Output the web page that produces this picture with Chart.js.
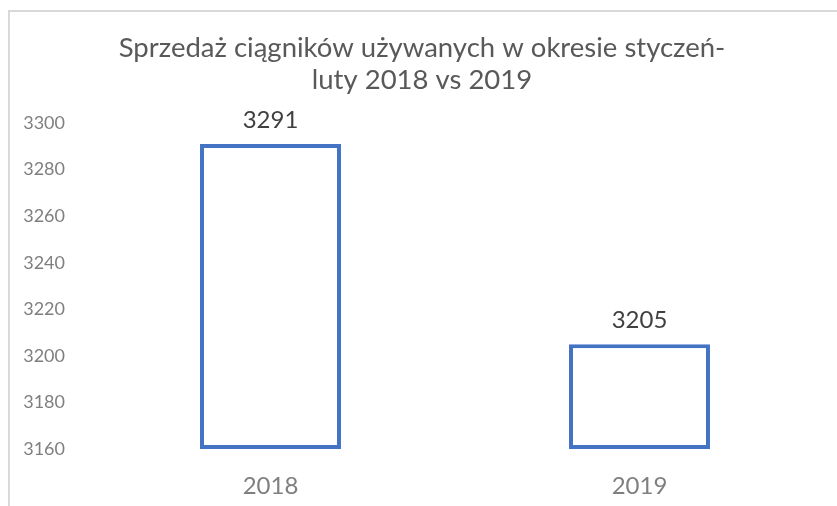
<!DOCTYPE html>
<html><head><meta charset="utf-8">
<script src="https://cdn.jsdelivr.net/npm/chart.js@4"></script>
<style>html,body{margin:0;padding:0;background:#fff}#wrap{width:837px;height:506px}</style>
</head><body><div id="wrap"><canvas id="c" width="837" height="506"></canvas></div>
<script>
const categories = ["2018", "2019"];
const sales = [3291, 3205];
const titleLines = ["Sprzedaż ciągników używanych w okresie styczeń-", "luty 2018 vs 2019"];
const yMin = 3160, yMax = 3300, yStep = 20;

const frame = {
  id: 'frame',
  beforeDraw(chart) {
    const ctx = chart.ctx;
    ctx.save();
    ctx.fillStyle = '#fff';
    ctx.fillRect(0, 0, chart.width, chart.height);
    ctx.strokeStyle = '#d9d9d9';
    ctx.lineWidth = 2;
    ctx.strokeRect(9, 11, chart.width + 20, chart.height + 20);
    ctx.restore();
  }
};
const labels = {
  id: 'labels',
  afterDatasetsDraw(chart) {
    const ctx = chart.ctx;
    const meta = chart.getDatasetMeta(0);
    ctx.save();
    ctx.font = '24px Lato';
    ctx.fillStyle = '#404040';
    ctx.textAlign = 'center';
    ctx.textBaseline = 'alphabetic';
    meta.data.forEach((el, i) => {
      ctx.fillText(String(chart.data.datasets[0].data[i]), el.x, el.y - 16);
    });
    ctx.restore();
  }
};

new Chart(document.getElementById('c'), {
  type: 'bar',
  data: {
    labels: categories,
    datasets: [{
      data: sales,
      base: yMin,
      backgroundColor: '#ffffff',
      borderColor: '#4472c4',
      borderWidth: 4,
      borderSkipped: false,
      barPercentage: 0.382,
      categoryPercentage: 1
    }]
  },
  options: {
    responsive: false,
    animation: false,
    layout: { padding: { left: 20, right: 13, top: 0, bottom: 0 } },
    plugins: {
      legend: { display: false },
      tooltip: { enabled: false },
      title: {
        display: true,
        text: titleLines,
        color: '#595959',
        font: { family: 'Lato', size: 27.5, weight: 'normal', lineHeight: 1.165 },
        padding: { top: 32, bottom: 27 }
      }
    },
    scales: {
      x: {
        grid: { display: false },
        border: { display: false },
        ticks: { color: '#7f7f7f', font: { family: 'Lato', size: 24 }, padding: 15 },
        afterFit(scale) { scale.height = 57; }
      },
      y: {
        min: yMin, max: yMax,
        grid: { display: false },
        border: { display: false },
        ticks: { stepSize: yStep, color: '#7f7f7f', font: { family: 'Lato', size: 18 }, padding: 13,
                 callback: (v) => String(v) },
        afterFit(scale) { scale.width = 66; }
      }
    }
  },
  plugins: [frame, labels]
});
</script></body></html>
